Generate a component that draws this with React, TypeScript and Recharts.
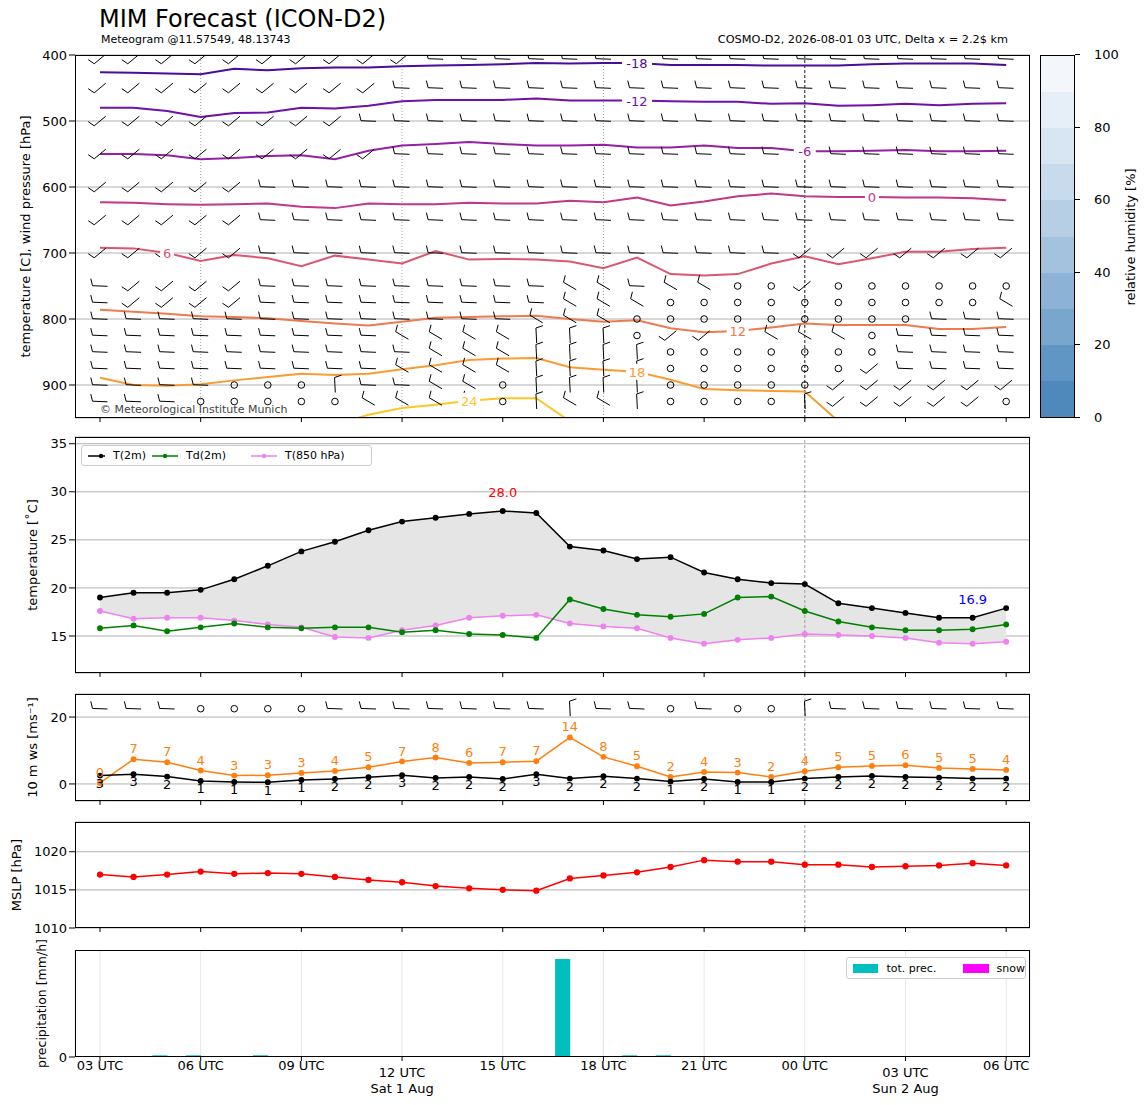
import React from 'react';
import {
  ComposedChart, Line, Area, Bar, Scatter, XAxis, YAxis, CartesianGrid,
  ReferenceLine, ReferenceDot, LabelList,
} from 'recharts';

const hours = ['03','04','05','06','07','08','09','10','11','12','13','14','15','16','17','18','19','20','21','22','23','00','01','02','03','04','05','06'];
const tickIdx = [0, 3, 6, 9, 12, 15, 18, 21, 24, 27];

const t2m = [19.0,19.5,19.5,19.8,20.9,22.3,23.8,24.8,26.0,26.9,27.3,27.7,28.0,27.8,24.3,23.9,23.0,23.2,21.6,20.9,20.5,20.4,18.4,17.9,17.4,16.9,16.9,17.9];
const td2m = [15.8,16.1,15.5,15.9,16.3,15.9,15.8,15.9,15.9,15.4,15.6,15.2,15.1,14.8,18.8,17.8,17.2,17.0,17.3,19.0,19.1,17.6,16.5,15.9,15.6,15.6,15.7,16.2];
const t850 = [17.6,16.8,16.9,16.9,16.6,16.2,15.9,14.9,14.8,15.6,16.1,16.9,17.1,17.2,16.3,16.0,15.8,14.8,14.2,14.6,14.8,15.2,15.1,15.0,14.8,14.3,14.2,14.4];

const gust = [0.3,7.4,6.5,4.0,2.5,2.6,3.3,3.9,5.0,6.7,7.9,6.3,6.5,6.8,13.9,8.1,5.3,2.1,3.6,3.4,2.1,3.8,5.0,5.4,5.6,4.8,4.5,4.2];
const ws = [2.5,2.9,2.2,0.9,0.6,0.5,1.2,1.5,2.0,2.6,1.8,2.1,1.5,2.9,1.6,2.3,1.6,0.7,1.5,0.6,0.6,1.6,2.1,2.4,2.1,1.9,1.6,1.6];

const mslp = [1017.0,1016.7,1017.0,1017.4,1017.1,1017.2,1017.1,1016.7,1016.3,1016.0,1015.5,1015.2,1015.0,1014.9,1016.5,1016.9,1017.3,1018.0,1018.9,1018.7,1018.7,1018.3,1018.3,1018.0,1018.1,1018.2,1018.5,1018.2];

const precip = [0,0,0.05,0.05,0,0.05,0,0,0,0,0,0,0,0,2.93,0,0.05,0.05,0,0,0,0,0,0,0,0,0,0];
const snow = [0,0,0,0,0,0,0,0,0,0,0,0,0,0,0,0,0,0,0,0,0,0,0,0,0,0,0,0];

const cM18 = [426,427,428,429,421,423,420,419,419,417,416,415,414,412,413,412,412,415,415,415,416,416,416,414,413,413,413,415];
const cM12 = [480,480,485,494,488,487,480,481,477,470,468,468,468,466,469,469,469,470,471,471,474,473,477,476,474,476,474,473];
const cM6 = [550,550,552,558,556,553,552,558,545,537,535,532,535,537,537,536,540,540,537,541,541,546,546,545,544,546,546,545];
const c0 = [623,624,626,627,626,625,630,632,625,626,626,624,625,625,621,623,616,628,622,614,610,614,615,615,616,616,617,620];
const c6 = [692,693,700,712,703,708,720,704,710,716,697,710,709,710,713,723,707,732,734,732,716,705,717,708,698,698,694,692];
const c12 = [786,789,792,796,797,799,803,807,810,804,798,797,796,795,800,804,802,814,820,818,813,807,809,809,809,815,815,812];
const c18 = [889,900,901,899,893,888,883,885,883,876,870,862,860,859,873,877,880,892,906,908,909,910,955,null,null,null,null,null];
const c24 = [null,null,null,null,null,null,null,960,945,935,930,924,920,920,955,null,null,null,null,null,null,null,null,null,null,null,null,null];

const contours = [
  { key: 'cM18', vals: cM18, color: '#4b0c9c', label: '-18', at: 16 },
  { key: 'cM12', vals: cM12, color: '#6f10a8', label: '-12', at: 16 },
  { key: 'cM6', vals: cM6, color: '#9520a4', label: '-6', at: 21 },
  { key: 'c0', vals: c0, color: '#c0378c', label: '0', at: 23 },
  { key: 'c6', vals: c6, color: '#dc5670', label: '6', at: 2 },
  { key: 'c12', vals: c12, color: '#ef7a4e', label: '12', at: 19 },
  { key: 'c18', vals: c18, color: '#fa9c32', label: '18', at: 16 },
  { key: 'c24', vals: c24, color: '#fdc627', label: '24', at: 11 },
];

const barbLevels = [406,450,500,550,600,650,700,750,775,800,825,850,875,900,925];
const barbRows = [
  'uuuuuuuuuurrrrrrrrrrrrrrrrrr',
  'uuuuuuuuurrrrrrrrrrrrrrrrrrr',
  'uuuuuuuurrrrrrrrrrrrrrrrrrrr',
  'uuuuuuuuurrrrrrrrrrrrrrrrrrr',
  'uuuuurrrrrrrrrrrrrrrrrrrrrrr',
  'uuuuurrrrrrrrrrrrrrrrrrrrrrr',
  'uuuuurrrrrrrrrrrrrrrruuuuuuu',
  'ruuuurrrrrrrrrddrddccucccccc',
  'ruuuurrrrrrrrrdddccccccccccd',
  'rrrrrrrrrrrrrdddcccccccccrrr',
  'rrrrrrrrrddddvvvcuurdddcrrrr',
  'rrrrrrrrrrdddvvvvcccccccrrrr',
  'rrrrrrrrrddddvvvvccccccurrrr',
  'rrrrcccvrrddcvvvvcccccuuuuuu',
  'rrrcccccddddcvddvccccvuuuuuc',
];
const surfBarbs = 'rrrccccrrrrrrrvrrcrccvrrrrrr';

const data = hours.map((h, i) => {
  const o: any = {
    i, t2m: t2m[i], td: td2m[i], t850: t850[i], band: [t850[i], t2m[i]],
    gust: gust[i], ws: ws[i], mslp: mslp[i], precip: precip[i], snow: snow[i],
  };
  contours.forEach(c => { o[c.key] = c.vals[i]; });
  return o;
});

const barbData: any[] = [];
barbLevels.forEach((p, li) => {
  barbRows[li].split('').forEach((code, i) => barbData.push({ i, p, code }));
});
const surfData = surfBarbs.split('').map((code, i) => ({ i, y: 22.5, code }));

const FONT = '"DejaVu Sans", sans-serif';
const XDOM: [number, number] = [-0.745, 27.71];
const W = 1148;
const PLOT_L = 75;
const PLOT_R = 1030;

const dirs: Record<string, [number, number]> = {
  u: [0.77, -0.64],
  r: [1, 0.04],
  d: [0.85, 0.5],
  v: [0.05, 1],
};

const Barb = (props: any) => {
  const { cx, cy, payload } = props;
  if (cx == null || cy == null) return null;
  const code = payload.code;
  if (code === 'c') return <circle cx={cx} cy={cy} r={3.3} fill="none" stroke="#000" strokeWidth={1} />;
  const [ux, uy] = dirs[code];
  const L = 15;
  const bx = cx - ux * L / 2, by = cy - uy * L / 2;
  const tx = cx + ux * L / 2, ty = cy + uy * L / 2;
  const px = uy, py = -ux;
  const f = 7;
  return (
    <g stroke="#000" strokeWidth={1} fill="none">
      <line x1={bx} y1={by} x2={tx} y2={ty} />
      <line x1={bx} y1={by} x2={bx + px * f - ux * 2} y2={by + py * f - uy * 2} />
    </g>
  );
};

const ContourLabel = (color: string, text: string, at: number) => (props: any) => {
  const { x, y, index } = props;
  if (index !== at || x == null || y == null) return null;
  const w = text.length * 8 + 6;
  return (
    <g>
      <rect x={x - w / 2} y={y - 8} width={w} height={16} fill="#fff" />
      <text x={x} y={y + 5} textAnchor="middle" fill={color} fontSize={13} fontFamily={FONT}>{text}</text>
    </g>
  );
};

const Frame = ({ top, bottom }: { top: number; bottom: number }) => (
  <div style={{ position: 'absolute', left: PLOT_L, top, width: PLOT_R - PLOT_L, height: bottom - top, border: '1px solid #000', boxSizing: 'border-box', pointerEvents: 'none' }} />
);

const tickStyle = { fontSize: 13, fill: '#000', fontFamily: FONT };

const hiddenX = (
  <XAxis dataKey="i" type="number" domain={XDOM} ticks={tickIdx} tickFormatter={() => ''} height={10}
    axisLine={false} tickLine={{ stroke: '#000' }} tickSize={4} allowDataOverflow />
);

const yLab = (text: string, dx = 0, fs = 13) => ({
  value: text, angle: -90, position: 'insideLeft' as const,
  style: { fontSize: fs, fill: '#000', fontFamily: FONT, textAnchor: 'middle' }, dx,
});

const BottomTick = (props: any) => {
  const { x, y, payload } = props;
  const i = payload.value;
  const extra = i === 9 ? 'Sat 1 Aug' : i === 24 ? 'Sun 2 Aug' : '';
  const dy = i === 9 || i === 24 ? 14 : 7;
  return (
    <g>
      <text x={x} y={y + dy} textAnchor="middle" fontSize={13} fontFamily={FONT} fill="#000">{hours[i] + ' UTC'}</text>
      {extra && <text x={x} y={y + dy + 16} textAnchor="middle" fontSize={13} fontFamily={FONT} fill="#000">{extra}</text>}
    </g>
  );
};

const cbColors = ['#4f88bb','#6096c3','#79a6cd','#8cb3d5','#a3c2dd','#b6cfe5','#c8dbed','#d8e5f2','#e6eef7','#f3f7fc'];

export default function App() {
  const common = { width: W, data };
  return (
    <div style={{ position: 'absolute', left: 0, top: 0, width: W, height: 1105, background: '#fff', fontFamily: FONT }}>
      <ComposedChart {...common} height={428} style={{ position: 'absolute', left: 0, top: 0 }}
        margin={{ top: 55, right: W - PLOT_R, bottom: 0, left: 15 }}>
        <CartesianGrid horizontal vertical={false} stroke="#b0b0b0" />
        {hiddenX}
        <YAxis type="number" dataKey="p" reversed domain={[400, 950]} ticks={[400,500,600,700,800,900]}
          width={60} tick={tickStyle} axisLine={false} tickLine={{ stroke: '#000' }} allowDataOverflow
          label={yLab('temperature [C], wind pressure [hPa]', 5)} />
        {[3, 9, 15].map(x => <ReferenceLine key={x} x={x} stroke="#888" strokeDasharray="1 2" strokeWidth={0.8} />)}
        <ReferenceLine x={21} stroke="#000" strokeDasharray="3 2" strokeWidth={0.9} />
        <Scatter data={barbData} dataKey="p" shape={<Barb />} isAnimationActive={false} />
        {contours.map(c => (
          <Line key={c.key} dataKey={c.key} stroke={c.color} strokeWidth={2} dot={false} isAnimationActive={false} connectNulls={false}>
            <LabelList dataKey={c.key} content={ContourLabel(c.color, c.label, c.at)} />
          </Line>
        ))}
      </ComposedChart>
      <div style={{ position: 'absolute', left: 75, top: 46, width: 955, height: 8, background: '#fff' }} />
      <Frame top={55} bottom={418} />
      <div style={{ position: 'absolute', left: 99, top: 5, fontSize: 24 }}>MIM Forecast (ICON-D2)</div>
      <div style={{ position: 'absolute', left: 101, top: 33, fontSize: 11 }}>Meteogram @11.57549, 48.13743</div>
      <div style={{ position: 'absolute', right: 1148 - 1008, top: 33, fontSize: 11.3 }}>COSMO-D2, 2026-08-01 03 UTC, Delta x = 2.2$ km</div>
      <div style={{ position: 'absolute', left: 100, top: 403, fontSize: 11, color: '#444' }}>© Meteorological Institute Munich</div>

      <div style={{ position: 'absolute', left: 1040, top: 55, width: 35, height: 363, border: '1px solid #000', boxSizing: 'border-box', display: 'flex', flexDirection: 'column-reverse' }}>
        {cbColors.map((c, k) => <div key={k} style={{ flex: 1, background: c }} />)}
      </div>
      {[0, 20, 40, 60, 80, 100].map(v => (
        <div key={v} style={{ position: 'absolute', left: 1075, top: 418 - v * 3.63 - 8, fontSize: 13, display: 'flex', alignItems: 'center' }}>
          <div style={{ width: 5, height: 1, background: '#000', marginRight: 14 }} />{v}
        </div>
      ))}
      <div style={{ position: 'absolute', left: 1130, top: 237, fontSize: 13, transform: 'translate(-50%,-50%) rotate(-90deg)', whiteSpace: 'nowrap' }}>relative humidity [%]</div>

      <ComposedChart {...common} height={253} style={{ position: 'absolute', left: 0, top: 430 }}
        margin={{ top: 7, right: W - PLOT_R, bottom: 0, left: 15 }}>
        <CartesianGrid horizontal vertical={false} stroke="#b0b0b0" />
        {hiddenX}
        <YAxis type="number" domain={[11.15, 35.7]} ticks={[15, 20, 25, 30, 35]} width={60} tick={tickStyle}
          axisLine={false} tickLine={{ stroke: '#000' }} allowDataOverflow label={yLab('temperature [˚C]', 12)} />
        <ReferenceLine x={21} stroke="#888" strokeDasharray="3 2" strokeWidth={0.8} />
        <Area dataKey="band" fill="#e5e5e5" fillOpacity={1} stroke="none" isAnimationActive={false} />
        <Line dataKey="t850" stroke="#ee82ee" strokeWidth={1.5} dot={{ r: 2.2, fill: '#ee82ee', stroke: '#ee82ee' }} isAnimationActive={false} />
        <Line dataKey="td" stroke="#008000" strokeWidth={1.5} dot={{ r: 2.2, fill: '#008000', stroke: '#008000' }} isAnimationActive={false} />
        <Line dataKey="t2m" stroke="#000" strokeWidth={1.5} dot={{ r: 2.2, fill: '#000', stroke: '#000' }} isAnimationActive={false} />
        <ReferenceDot x={12} y={t2m[12]} r={0} label={{ value: t2m[12].toFixed(1), position: 'top', offset: 14, fill: 'red', fontSize: 13, fontFamily: FONT }} />
        <ReferenceDot x={26} y={t2m[26]} r={0} label={{ value: t2m[26].toFixed(1), position: 'top', offset: 14, fill: 'blue', fontSize: 13, fontFamily: FONT }} />
      </ComposedChart>
      <Frame top={437} bottom={673} />
      <div style={{ position: 'absolute', left: 81, top: 445, width: 291, height: 21, border: '1px solid #ccc', borderRadius: 3, background: '#fff', fontSize: 11, display: 'flex', alignItems: 'center', boxSizing: 'border-box' }}>
        {[['T(2m)', '#000', 58], ['Td(2m)', '#008000', 93], ['T(850 hPa)', '#ee82ee', 100]].map(([t, c, w]: any) => (
          <div key={t} style={{ display: 'flex', alignItems: 'center', width: w, marginLeft: 6 }}>
            <svg width={26} height={8}><line x1={0} y1={4} x2={26} y2={4} stroke={c} strokeWidth={1.5} /><circle cx={13} cy={4} r={2.2} fill={c} /></svg>
            <span style={{ marginLeft: 8 }}>{t}</span>
          </div>
        ))}
      </div>

      <ComposedChart {...common} height={126} style={{ position: 'absolute', left: 0, top: 685 }}
        margin={{ top: 9, right: W - PLOT_R, bottom: 0, left: 15 }}>
        <CartesianGrid horizontal vertical={false} stroke="#b0b0b0" />
        {hiddenX}
        <YAxis type="number" dataKey="y" domain={[-5.1, 26.9]} ticks={[0, 20]} width={60} tick={tickStyle}
          axisLine={false} tickLine={{ stroke: '#000' }} allowDataOverflow label={yLab('10 m ws [ms⁻¹]', 12)} />
        <ReferenceLine x={21} stroke="#888" strokeDasharray="3 2" strokeWidth={0.8} />
        <Scatter data={surfData} dataKey="y" shape={<Barb />} isAnimationActive={false} />
        <Line dataKey="gust" stroke="#ff7f0e" strokeWidth={1.5} dot={{ r: 2.2, fill: '#ff7f0e', stroke: '#ff7f0e' }} isAnimationActive={false}>
          <LabelList dataKey="gust" position="top" offset={6} formatter={(v: any) => Math.round(v)} style={{ fill: '#ff7f0e', fontSize: 13, fontFamily: FONT }} />
        </Line>
        <Line dataKey="ws" stroke="#000" strokeWidth={1.5} dot={{ r: 2.2, fill: '#000', stroke: '#000' }} isAnimationActive={false}>
          <LabelList dataKey="ws" position="bottom" offset={3} formatter={(v: any) => Math.round(v)} style={{ fill: '#000', fontSize: 13, fontFamily: FONT }} />
        </Line>
      </ComposedChart>
      <Frame top={694} bottom={801} />

      <ComposedChart {...common} height={126} style={{ position: 'absolute', left: 0, top: 812 }}
        margin={{ top: 10, right: W - PLOT_R, bottom: 0, left: 15 }}>
        <CartesianGrid horizontal vertical={false} stroke="#b0b0b0" />
        {hiddenX}
        <YAxis type="number" domain={[1010, 1023.9]} ticks={[1010, 1015, 1020]} width={60} tick={tickStyle}
          axisLine={false} tickLine={{ stroke: '#000' }} allowDataOverflow label={yLab('MSLP [hPa]', -4)} />
        <ReferenceLine x={21} stroke="#888" strokeDasharray="3 2" strokeWidth={0.8} />
        <Line dataKey="mslp" stroke="#ff0000" strokeWidth={1.5} dot={{ r: 2.4, fill: '#ff0000', stroke: '#ff0000' }} isAnimationActive={false} />
      </ComposedChart>
      <Frame top={822} bottom={928} />

      <ComposedChart {...common} height={157} style={{ position: 'absolute', left: 0, top: 940 }}
        margin={{ top: 10, right: W - PLOT_R, bottom: 0, left: 15 }}>
        <CartesianGrid horizontal={false} vertical stroke="#e6e6e6" />
        <XAxis dataKey="i" type="number" domain={XDOM} ticks={tickIdx} height={40} tick={<BottomTick />}
          axisLine={false} tickLine={{ stroke: '#000' }} tickSize={4} allowDataOverflow />
        <YAxis type="number" domain={[0, 3.2]} ticks={[0]} width={60} tick={tickStyle}
          axisLine={false} tickLine={{ stroke: '#000' }} allowDataOverflow label={yLab('precipitation [mm/h]', 22, 12.5)} />
        <Bar dataKey="precip" fill="#00bfbf" barSize={30} isAnimationActive={false} />
        <Bar dataKey="snow" fill="#ff00ff" barSize={30} isAnimationActive={false} />
      </ComposedChart>
      <Frame top={950} bottom={1057} />
      <div style={{ position: 'absolute', left: 846, top: 957, width: 180, height: 22, border: '1px solid #ccc', borderRadius: 3, background: '#fff', fontSize: 11, display: 'flex', alignItems: 'center', boxSizing: 'border-box' }}>
        <div style={{ width: 26, height: 9, background: '#00bfbf', marginLeft: 6 }} /><span style={{ marginLeft: 8, width: 72 }}>tot. prec.</span>
        <div style={{ width: 26, height: 9, background: '#ff00ff', marginLeft: 6 }} /><span style={{ marginLeft: 8 }}>snow</span>
      </div>
    </div>
  );
}
